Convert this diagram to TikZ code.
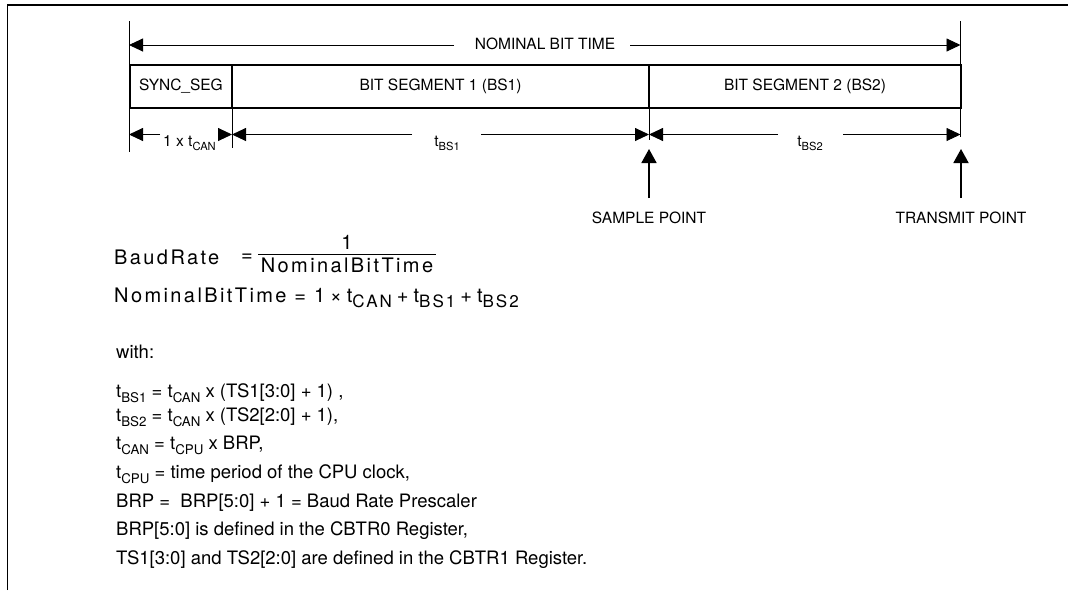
\documentclass[tikz,border=0pt]{standalone}
\usepackage{fontspec}
\setmainfont{TeX Gyre Heros}
\newfontfamily\eqfont[LetterSpace=12]{TeX Gyre Heros}
\usepackage{graphicx}
\usetikzlibrary{arrows.meta}
\newcommand\lsub[1]{\raisebox{-0.28em}{\scalebox{0.72}{#1}}}
\newcommand\esub[1]{\raisebox{-0.25em}{\scalebox{0.85}{#1}}}
\newcommand\opgap{\hspace{5pt}}
\begin{document}
\begin{tikzpicture}[x=1pt,y=-1pt,
  frameln/.style={line width=1.3pt},
  thinln/.style={line width=0.9pt},
  dimarrow/.style={line width=0.9pt,-{Triangle[length=14pt,width=13pt]}},
  uparrow/.style={line width=1.8pt,-{Triangle[length=14pt,width=15pt]}},
  lbl/.style={font=\fontsize{15.5}{18}\selectfont, inner sep=0pt},
  seg/.style={draw, line width=2pt, minimum height=43pt, inner sep=0pt, font=\fontsize{15.5}{18}\selectfont},
  eq/.style={font=\eqfont\fontsize{20}{24}\selectfont, inner sep=0pt},
  body/.style={font=\fontsize{18.5}{22}\selectfont, anchor=base west, inner sep=0pt},
  fracbar/.style={line width=1pt}]
\useasboundingbox (0,0) rectangle (1071,590);
% frame
\coordinate (frTL) at (7.5,5);
\coordinate (frBL) at (7.5,590);
\coordinate (frTR) at (1068,5);
\draw[frameln] (frBL) -- (frTL) -- (frTR);
% segment boxes
\node[seg, minimum width=102pt] (sync) at (181,86.5) {SYNC\_SEG};
\node[seg, minimum width=417pt] (bs1) at (440.5,86.5) {BIT SEGMENT 1 (BS1)};
\node[seg, minimum width=312pt] (bs2) at (805,86.5) {BIT SEGMENT 2 (BS2)};
% ticks
\coordinate (tA1) at (129,21);   \coordinate (tA2) at (129,152);
\coordinate (tD1) at (960.5,21); \coordinate (tD2) at (960.5,137);
\coordinate (tB1) at (232,108);  \coordinate (tB2) at (232,148);
\coordinate (tC1) at (649,108);  \coordinate (tC2) at (649,140);
\draw[thinln] (tA1) -- (tA2);
\draw[thinln] (tD1) -- (tD2);
\draw[thinln] (tB1) -- (tB2);
\draw[thinln] (tC1) -- (tC2);
% nominal bit time
\node[lbl] (nbt) at (545,43.5) {NOMINAL BIT TIME};
\coordinate (nbL) at (129,45);  \coordinate (nbR) at (960.5,45);
\coordinate (nbgL) at (454,45); \coordinate (nbgR) at (630,45);
\draw[dimarrow] (nbgL) -- (nbL);
\draw[dimarrow] (nbgR) -- (nbR);
% dimension row
\coordinate (d0) at (129,134.5);
\coordinate (d1) at (232,134.5);
\coordinate (d2) at (649,134.5);
\coordinate (d3) at (960.5,134.5);
\coordinate (g1a) at (160,134.5); \coordinate (g1b) at (218,134.5);
\coordinate (g2a) at (412,134.5); \coordinate (g2b) at (481,134.5);
\coordinate (g3a) at (778,134.5); \coordinate (g3b) at (843,134.5);
\draw[dimarrow] (g1a) -- (d0);
\draw[dimarrow] (g1b) -- (d1);
\draw[dimarrow] (g2a) -- (d1);
\draw[dimarrow] (g2b) -- (d2);
\draw[dimarrow] (g3a) -- (d2);
\draw[dimarrow] (g3b) -- (d3);
\node[lbl, anchor=base] (ltcan) at (189.5,146) {1 x t\lsub{CAN}};
\node[lbl, anchor=base] (ltbs1) at (447,146) {t\lsub{BS1}};
\node[lbl, anchor=base] (ltbs2) at (810,146) {t\lsub{BS2}};
% sample / transmit points
\coordinate (sp0) at (649,198); \coordinate (sp1) at (649,149);
\coordinate (tp0) at (961,198); \coordinate (tp1) at (961,149);
\draw[uparrow] (sp0) -- (sp1);
\draw[uparrow] (tp0) -- (tp1);
\node[lbl, anchor=base] (splbl) at (649,223) {SAMPLE POINT};
\node[lbl, anchor=base] (tplbl) at (961,223) {TRANSMIT POINT};
% baud rate formula
\node[eq, anchor=base west] (br) at (114,264) {BaudRate};
\node[eq, anchor=base] (breq) at (247,261) {=};
\coordinate (frL) at (258,254); \coordinate (frR) at (436,254);
\draw[fracbar] (frL) -- (frR);
\node[eq, anchor=base] (num) at (347,249) {1};
\node[eq, anchor=base] (den) at (347,272) {NominalBitTime};
% nominal bit time formula
\node[eq, anchor=base west] (nbtf) at (114,302) {NominalBitTime\ =\ 1\opgap×\opgap t\esub{CAN}\opgap+\opgap t\esub{BS1}\opgap+\opgap t\esub{BS2}};
% body text
\node[body] (with) at (116,358) {with:};
\node[body] (l1) at (116,397) {t\lsub{BS1} = t\lsub{CAN} x (TS1[3:0] + 1) ,};
\node[body] (l2) at (116,421) {t\lsub{BS2} = t\lsub{CAN} x (TS2[2:0] + 1),};
\node[body] (l3) at (116,449) {t\lsub{CAN} = t\lsub{CPU} x BRP,};
\node[body] (l4) at (116,478) {t\lsub{CPU} = time period of the CPU clock,};
\node[body] (l5) at (116,507) {BRP = \ BRP[5:0] + 1 = Baud Rate Prescaler};
\node[body] (l6) at (116,535) {BRP[5:0] is defined in the CBTR0 Register,};
\node[body] (l7) at (116,564) {TS1[3:0] and TS2[2:0] are defined in the CBTR1 Register.};
\end{tikzpicture}
\end{document}
